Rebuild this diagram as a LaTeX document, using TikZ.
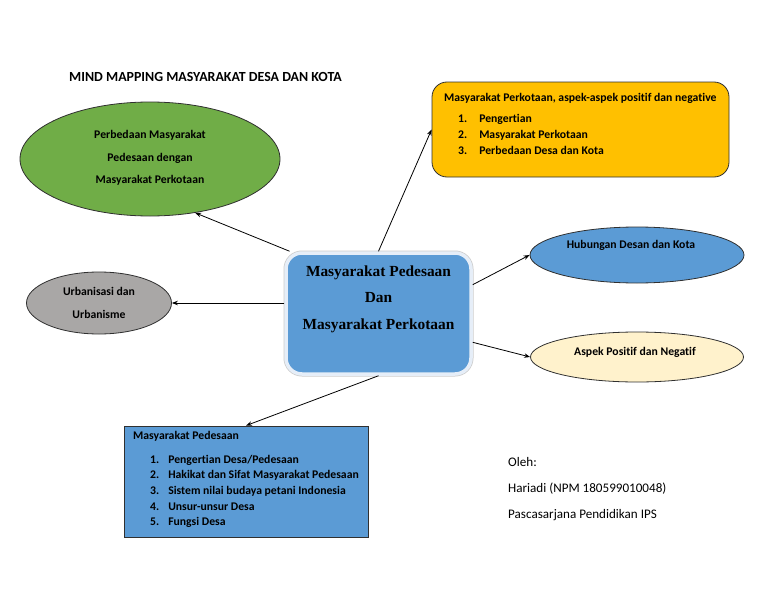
\documentclass[tikz,border=0pt]{standalone}
\usepackage{fontspec}
\setmainfont{Carlito}[Ligatures=NoCommon]
\newfontfamily\tnr{Liberation Serif}
\usetikzlibrary{arrows.meta,shapes.geometric,calc}
\definecolor{cgreen}{HTML}{70AD47}
\definecolor{cgrey}{HTML}{A9A7A6}
\definecolor{cblue}{HTML}{5B9BD5}
\definecolor{ccream}{HTML}{FFF2CC}
\definecolor{cyellow}{HTML}{FFC000}
\definecolor{cedge}{HTML}{303030}
\definecolor{cglow}{HTML}{E6EEF8}
\tikzset{
  oval/.style={ellipse, draw=cedge, line width=0.8pt, inner sep=0pt},
  boxtext/.style={font=\fontsize{11.7}{15.7}\selectfont\bfseries, inner sep=0pt, align=left},
  ovaltext/.style={font=\fontsize{11.7}{22.5}\selectfont\bfseries, inner sep=0pt, align=center},
  plain/.style={font=\fontsize{13.1}{15}\selectfont, inner sep=0pt, anchor=west},
  arr/.style={draw=black, line width=0.8pt, -{Stealth[length=6pt,width=4.5pt]}},
}
\begin{document}
\begin{tikzpicture}[x=1pt,y=-1pt]
\useasboundingbox (0,0) rectangle (768,594);

% title
\node[font=\fontsize{13.9}{15}\selectfont\bfseries, inner sep=0pt, anchor=west] (title) at (69,77) {MIND MAPPING MASYARAKAT DESA DAN KOTA};

% centre box
\node[draw=cglow, line width=3.5pt, fill=cblue, rounded corners=16pt,
      minimum width=185pt, minimum height=121pt, inner sep=0pt,
      preaction={draw=gray!40, line width=5pt, rounded corners=16pt}] (c) at (378.5,313.5) {};
\node[font=\fontsize{15.4}{26.5}\selectfont\tnr\bfseries, align=center, inner sep=0pt] (ct) at (378.5,299) {Masyarakat Pedesaan\\Dan\\Masyarakat Perkotaan};

% green ellipse
\node[oval, fill=cgreen, minimum width=260pt, minimum height=114pt] (green) at (150,159) {};
\node[ovaltext] (greent) at (150,158) {Perbedaan Masyarakat\\Pedesaan dengan\\Masyarakat Perkotaan};

% grey ellipse
\node[oval, fill=cgrey, minimum width=145pt, minimum height=62pt] (grey) at (99,303) {};
\node[ovaltext] (greyt) at (99,303) {Urbanisasi dan\\Urbanisme};

% blue ellipse
\node[oval, fill=cblue, minimum width=214pt, minimum height=56pt] (hub) at (637,255) {};
\node[ovaltext] (hubt) at (631,245) {Hubungan Desan dan Kota};

% cream ellipse
\node[oval, fill=ccream, minimum width=213pt, minimum height=50pt] (asp) at (637,357) {};
\node[ovaltext] (aspt) at (635,352) {Aspek Positif dan Negatif};

% yellow box
\node[draw=cedge, line width=0.8pt, fill=cyellow, rounded corners=15pt,
      minimum width=297pt, minimum height=95pt, inner sep=0pt] (yel) at (580.5,129.5) {};
\node[boxtext, anchor=west] (yelh) at (444,98) {Masyarakat Perkotaan, aspek-aspek positif dan negative};
\node[boxtext, anchor=north west, font=\fontsize{11.7}{16}\selectfont\bfseries] (yell) at (458,111) {%
\begin{tabular}{@{}l@{\hspace{12pt}}l@{}}
1. & Pengertian\\
2. & Masyarakat Perkotaan\\
3. & Perbedaan Desa dan Kota
\end{tabular}};

% blue rectangle
\node[draw=cedge, line width=0.8pt, fill=cblue,
      minimum width=244pt, minimum height=111pt, inner sep=0pt] (blue) at (246,481.5) {};
\node[boxtext, anchor=west] (blueh) at (133,436) {Masyarakat Pedesaan};
\node[boxtext, anchor=north west] (bluel) at (150,452) {%
\begin{tabular}{@{}l@{\hspace{9pt}}l@{}}
1. & Pengertian Desa/Pedesaan\\
2. & Hakikat dan Sifat Masyarakat Pedesaan\\
3. & Sistem nilai budaya petani Indonesia\\
4. & Unsur-unsur Desa\\
5. & Fungsi Desa
\end{tabular}};

% author
\node[plain] (oleh) at (508,462) {Oleh:};
\node[plain] (nama) at (508,489) {Hariadi (NPM 180599010048)};
\node[plain] (prog) at (508,515) {Pascasarjana Pendidikan IPS};

% connectors
\draw[arr] (c.145) -- (green.-50);
\draw[arr] (c.west |- grey.east) -- (grey.east);
\draw[arr] (c.north) -- (yel.west);
\draw[arr] (c.17) -- (hub.west);
\draw[arr] (c.-17) -- (asp.west);
\draw[arr] (c.south) -- (blue.north);
\end{tikzpicture}
\end{document}
